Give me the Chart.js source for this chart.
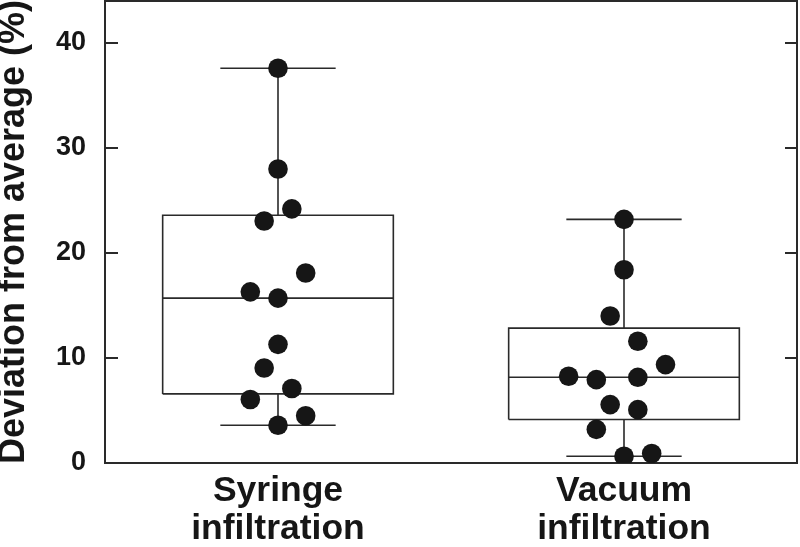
<!DOCTYPE html>
<html><head><meta charset="utf-8">
<script src="https://cdn.jsdelivr.net/npm/chart.js@4/dist/chart.umd.min.js"></script>
<style>html,body{margin:0;padding:0;background:#fff;} canvas{display:block;}</style>
</head><body>
<canvas id="c" width="800" height="547"></canvas>
<script>
// ---- data ----
const categories = ["Syringe infiltration", "Vacuum infiltration"];
const syringeValues = [37.6, 28.0, 24.2, 23.05, 18.1, 16.3, 15.7, 11.3, 9.05, 7.1, 6.05, 4.5, 3.6];
const syringeJitter = [0, 0, 1, -1, 2, -2, 0, 0, -1, 1, -2, 2, 0];
const vacuumValues = [23.2, 18.4, 14.0, 11.6, 9.37, 8.26, 7.94, 8.16, 5.56, 5.08, 3.2, 0.64, 0.9];
const vacuumJitter = [0, 0, -1, 1, 3, -4, -2, 1, -1, 1, -2, 0, 2];
const boxMin = [3.6, 0.64];
const boxQ1 = [6.58, 4.14];
const boxMedian = [15.7, 8.16];
const boxQ3 = [23.6, 12.85];
const boxMax = [37.6, 23.2];
const yTicks = [0, 10, 20, 30, 40];
const yAxisTitle = "Deviation from average (%)";

// ---- styling constants ----
const FONT = '"Liberation Sans", Arial, Helvetica, sans-serif';
const INK = '#161616';
const LINE = '#2a2a2a';
const JITTER_STEP = 0.04;
const BOX_HALF = 1 / 3;
const CAP_HALF = 1 / 6;

const groups = [syringeValues, vacuumValues];
const jitters = [syringeJitter, vacuumJitter];

const pointData = [];
groups.forEach((vals, g) => {
  vals.forEach((v, i) => pointData.push({ x: g + 1 + jitters[g][i] * JITTER_STEP, y: v }));
});

function seg(points) {
  return {
    type: 'scatter', data: points, showLine: true, pointRadius: 0, pointHoverRadius: 0,
    borderColor: LINE, borderWidth: 1.6, borderJoinStyle: 'miter', fill: false, order: 2, tension: 0
  };
}

const lineSets = [];
categories.forEach((c, g) => {
  const cx = g + 1;
  lineSets.push(seg([
    { x: cx - BOX_HALF, y: boxQ1[g] }, { x: cx - BOX_HALF, y: boxQ3[g] },
    { x: cx + BOX_HALF, y: boxQ3[g] }, { x: cx + BOX_HALF, y: boxQ1[g] },
    { x: cx - BOX_HALF, y: boxQ1[g] }]));
  lineSets.push(seg([{ x: cx - BOX_HALF, y: boxMedian[g] }, { x: cx + BOX_HALF, y: boxMedian[g] }]));
  lineSets.push(seg([{ x: cx, y: boxQ3[g] }, { x: cx, y: boxMax[g] }]));
  lineSets.push(seg([{ x: cx, y: boxQ1[g] }, { x: cx, y: boxMin[g] }]));
  lineSets.push(seg([{ x: cx - CAP_HALF, y: boxMax[g] }, { x: cx + CAP_HALF, y: boxMax[g] }]));
  lineSets.push(seg([{ x: cx - CAP_HALF, y: boxMin[g] }, { x: cx + CAP_HALF, y: boxMin[g] }]));
});

const framePlugin = {
  id: 'frame',
  beforeDatasetsDraw(chart) {
    const { ctx, chartArea: a, scales: { y } } = chart;
    ctx.save();
    ctx.strokeStyle = LINE;
    ctx.lineWidth = 2;
    ctx.strokeRect(a.left, a.top, a.right - a.left, a.bottom - a.top);
    ctx.beginPath();
    y.ticks.forEach(t => {
      const py = y.getPixelForValue(t.value);
      if (py < a.bottom - 2) {
        ctx.moveTo(a.left, py); ctx.lineTo(a.left + 13, py);
        ctx.moveTo(a.right, py); ctx.lineTo(a.right - 12, py);
      }
    });
    ctx.stroke();
    ctx.restore();
  }
};

new Chart(document.getElementById('c'), {
  type: 'scatter',
  data: {
    datasets: [{
      data: pointData, pointRadius: 9.8, pointHoverRadius: 9.8,
      backgroundColor: INK, borderColor: INK, borderWidth: 0, order: 0
    }, ...lineSets]
  },
  options: {
    responsive: false,
    animation: false,
    layout: { autoPadding: false, padding: { top: 1, right: 3, left: 0, bottom: 0 } },
    plugins: { legend: { display: false }, tooltip: { enabled: false } },
    scales: {
      x: {
        type: 'linear', min: 0.5, max: 2.5,
        afterBuildTicks: s => { s.ticks = categories.map((c, i) => ({ value: i + 1 })); },
        afterFit: s => { s.height = 84; s.paddingLeft = 0; s.paddingRight = 0; },
        grid: { display: false, drawTicks: false },
        border: { display: false },
        ticks: {
          padding: 9, color: INK, maxRotation: 0, autoSkip: false,
          font: { family: FONT, size: 35.5, weight: 'bold', lineHeight: '38px' },
          callback: (v, i) => categories[i].split(' ')
        }
      },
      y: {
        type: 'linear', min: 0, max: 44,
        afterBuildTicks: s => { s.ticks = yTicks.map(v => ({ value: v })); },
        afterFit: s => { s.width = 105; s.paddingTop = 0; s.paddingBottom = 0; },
        grid: { display: false, drawTicks: false },
        border: { display: false },
        ticks: {
          padding: 19, color: INK,
          font: { family: FONT, size: 27, weight: 'bold' },
          callback: v => String(v)
        },
        title: {
          display: true, text: yAxisTitle, color: INK, padding: { top: 0, bottom: 0 },
          font: { family: FONT, size: 36, weight: 'bold', lineHeight: 0.8 }
        }
      }
    }
  },
  plugins: [framePlugin]
});
</script>
</body></html>
